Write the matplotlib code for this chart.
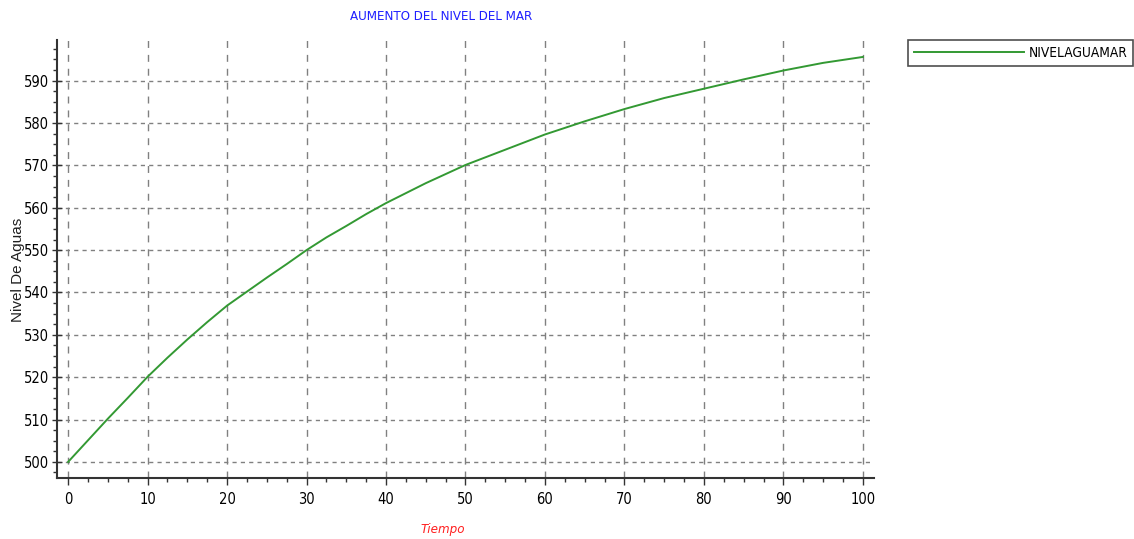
import matplotlib
matplotlib.use("Agg")
import matplotlib.pyplot as plt
from matplotlib.ticker import MultipleLocator

tiempo = [0, 2.5, 5, 7.5, 10, 12.5, 15, 17.5, 20, 22.5, 25, 27.5, 30, 32.5, 35, 37.5, 40,
          45, 50, 55, 60, 65, 70, 75, 80, 85, 90, 95, 100]
nivel = [500.0, 505.1, 510.2, 515.1, 520.1, 524.6, 528.9, 533.0, 536.9, 540.2, 543.5, 546.7,
         550.0, 553.0, 555.7, 558.5, 561.1, 565.8, 570.1, 573.7, 577.3, 580.4, 583.3, 585.9,
         588.1, 590.3, 592.4, 594.2, 595.6]

title = "AUMENTO DEL NIVEL DEL MAR"
xlabel = "Tiempo"
ylabel = "Nivel De Aguas"
series_name = "NIVELAGUAMAR"

plt.rcParams['font.family'] = ['DejaVu Sans']
plt.rcParams['font.stretch'] = 'condensed'

fig = plt.figure(figsize=(11.34, 5.39), dpi=100)
ax = fig.add_axes([57/1134, 1-478/539, (874-57)/1134, (478-40)/539])

line, = ax.plot(tiempo, nivel, color='#339933', lw=1.4, label=series_name)

ax.set_xlim(-1.4, 101.4)
ax.set_ylim(496.2, 599.6)
ax.xaxis.set_major_locator(MultipleLocator(10))
ax.xaxis.set_minor_locator(MultipleLocator(2.5))
ax.yaxis.set_major_locator(MultipleLocator(10))
ax.yaxis.set_minor_locator(MultipleLocator(2.5))

ax.xaxis.grid(True, which='major', color='#808080', linestyle=(0, (5, 5)), lw=1)
ax.yaxis.grid(True, which='major', color='#808080', linestyle=(0, (3, 3)), lw=1)
ax.set_axisbelow(True)

for s in ['top', 'right']:
    ax.spines[s].set_visible(False)
for s in ['left', 'bottom']:
    ax.spines[s].set_color('#333333')
    ax.spines[s].set_linewidth(1.5)

ax.tick_params(axis='y', which='major', direction='inout', length=7, width=1, color='#333333',
               labelsize=10.5, pad=2)
ax.tick_params(axis='y', which='minor', direction='out', length=3, width=1, color='#333333')
ax.tick_params(axis='x', which='major', direction='out', length=5, width=1, color='#333333',
               labelsize=10.5, pad=5)
ax.tick_params(axis='x', which='minor', direction='out', length=3, width=1, color='#333333')

fig.text(441/1134, 1-17/539, title, color='#1f1fff', fontsize=9.5, ha='center', va='center')
fig.text(443/1134, 1-530/539, xlabel, color='#ff2020', fontsize=9.5, style='italic',
         ha='center', va='center')
fig.text(18/1134, 1-270/539, ylabel, color='#202020', fontsize=11, rotation=90,
         ha='center', va='center', family=['Liberation Sans', 'DejaVu Sans'], stretch='normal')

leg = fig.legend(handles=[line], loc='upper left', bbox_to_anchor=(908/1134, 1-40/539),
                 frameon=True, fancybox=False, edgecolor='#222222', fontsize=9.8,
                 handlelength=8.1, borderpad=0.45, handletextpad=0.3, borderaxespad=0)
leg.get_frame().set_linewidth(1.2)

fig.savefig("out.png", dpi=100)
